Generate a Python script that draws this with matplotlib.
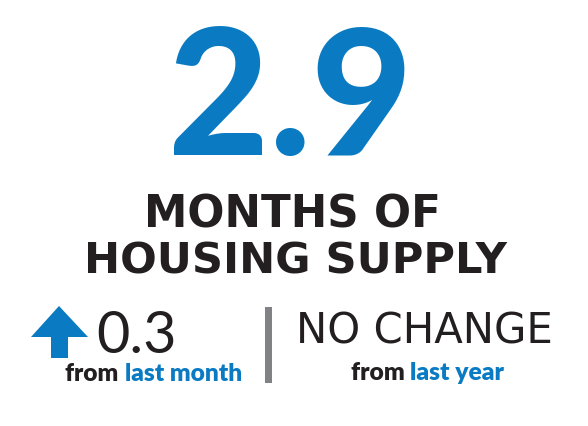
import matplotlib
matplotlib.use("Agg")
import matplotlib.pyplot as plt
from matplotlib.patches import Polygon, Rectangle

# ---- data ----
headline_value = "2.9"
headline_lines = ["MONTHS OF", "HOUSING SUPPLY"]
monthly_change = "0.3"
monthly_dir = "up"
monthly_label = ("from ", "last month")
yearly_change = "NO CHANGE"
yearly_label = ("from ", "last year")

BLUE = "#0a7bc2"
DARK = "#231f20"
GRAY = "#808285"

W, H = 588, 426
fig = plt.figure(figsize=(W / 100, H / 100), dpi=100)
ax = fig.add_axes([0, 0, 1, 1])
ax.set_xlim(0, W)
ax.set_ylim(H, 0)
ax.axis("off")
renderer = fig.canvas.get_renderer()


def fit_text(s, x, y, width, ha="center", **kw):
    t = ax.text(x, y, s, ha=ha, va="baseline", fontsize=20, **kw)
    w = t.get_window_extent(renderer).width
    t.set_fontsize(20 * width / w)
    return t


def width_of(s, size, **kw):
    t = ax.text(0, 0, s, fontsize=size, **kw)
    w = t.get_window_extent(renderer).width
    t.remove()
    return w


# big number
ax.text(290, 155, headline_value, ha="center", va="baseline", fontsize=126,
        color=BLUE, family="Lato", weight="black")

# title lines
fit_text(headline_lines[0], 292, 228, 296, color=DARK, family="DejaVu Sans", weight="bold")
fit_text(headline_lines[1], 295, 274, 422, color=DARK, family="DejaVu Sans", weight="bold")

# up arrow
ax.add_patch(Polygon([(59, 306), (88, 337), (68, 337), (68, 358), (51, 358), (51, 337), (31, 337)],
                     closed=True, color=BLUE, lw=0))

fit_text(monthly_change, 96, 353, 80, ha="left", color=DARK, family="Lato", weight="normal")


def two_tone(parts, x0, x1, y):
    full = parts[0] + parts[1]
    kw = dict(family="Lato", weight="heavy")
    w = width_of(full, 20, **kw)
    size = 20 * (x1 - x0) / w
    ax.text(x0, y, parts[0], ha="left", va="baseline", fontsize=size, color=DARK, **kw)
    ax.text(x1, y, parts[1], ha="right", va="baseline", fontsize=size, color=BLUE, **kw)


two_tone(monthly_label, 65, 242, 381)

# divider
ax.add_patch(Rectangle((265, 307), 7, 76, color=GRAY, lw=0))

fit_text(yearly_change, 424.5, 344, 256, color=DARK, family="DejaVu Sans", weight="normal")
two_tone(yearly_label, 351, 504, 380)

fig.savefig("out.png", dpi=100)
